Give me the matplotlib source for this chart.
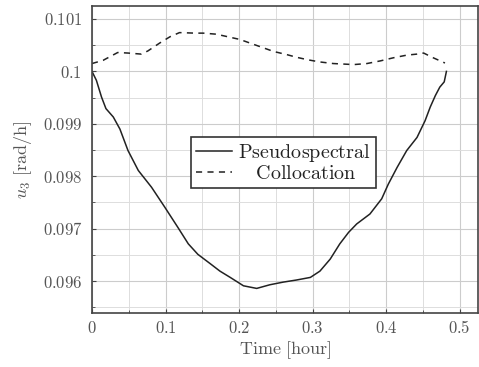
import numpy as np
import matplotlib
matplotlib.use('Agg')
import matplotlib.pyplot as plt
from matplotlib.ticker import MultipleLocator, FuncFormatter

plt.rcParams['mathtext.fontset'] = 'cm'
plt.rcParams['font.family'] = 'serif'
plt.rcParams['font.serif'] = ['DejaVu Serif']

# Pseudospectral (solid)
t_ps = [0, 0.006, 0.013, 0.019, 0.029, 0.038, 0.049, 0.063, 0.081, 0.099, 0.117, 0.131,
        0.144, 0.161, 0.174, 0.188, 0.206, 0.224, 0.242, 0.26, 0.278, 0.297, 0.31, 0.324,
        0.337, 0.349, 0.36, 0.378, 0.394, 0.403, 0.415, 0.428, 0.442, 0.453, 0.46, 0.467,
        0.473, 0.479, 0.482]
u_ps = [0.1, 0.09983, 0.09951, 0.09929, 0.09913, 0.0989, 0.09849, 0.09811, 0.09779, 0.09741,
        0.09702, 0.09671, 0.09651, 0.09633, 0.09619, 0.09607, 0.09591, 0.09586, 0.09593,
        0.09598, 0.09602, 0.09607, 0.09619, 0.09642, 0.09671, 0.09693, 0.09709, 0.09728,
        0.09757, 0.09785, 0.09817, 0.09849, 0.09874, 0.09906, 0.09932, 0.09954, 0.0997,
        0.0998, 0.1]

# Collocation (dashed)
t_col = [0, 0.015, 0.035, 0.049, 0.067, 0.076, 0.092, 0.106, 0.119, 0.14, 0.151, 0.169,
         0.201, 0.217, 0.231, 0.247, 0.265, 0.278, 0.294, 0.31, 0.328, 0.356, 0.374, 0.392,
         0.41, 0.428, 0.442, 0.451, 0.464, 0.48]
u_col = [0.10015, 0.10021, 0.10036, 0.10035, 0.10033, 0.10039, 0.10054, 0.10066, 0.10074,
         0.10073, 0.10073, 0.10071, 0.10061, 0.10053, 0.10046, 0.10038, 0.10032, 0.10027,
         0.10022, 0.10018, 0.10015, 0.10013, 0.10015, 0.1002, 0.10026, 0.10031, 0.10033,
         0.10035, 0.10026, 0.10016]

fig = plt.figure(figsize=(4.79, 3.67), dpi=100)
ax = fig.add_axes([0.192, 0.147, 0.806, 0.837])

ax.plot(t_ps, u_ps, color='#222222', lw=1.1, ls='-', label='Pseudospectral')
ax.plot(t_col, u_col, color='#222222', lw=1.1, ls=(0, (4, 3.5)), label='Collocation')

ax.set_xlim(0, 0.525)
ax.set_ylim(0.09539, 0.10125)
ax.xaxis.set_major_locator(MultipleLocator(0.1))
ax.xaxis.set_minor_locator(MultipleLocator(0.05))
ax.yaxis.set_major_locator(MultipleLocator(0.001))
ax.yaxis.set_minor_locator(MultipleLocator(0.0005))

def fmt(v, pos):
    s = ('%.3f' % v).rstrip('0').rstrip('.')
    return '$' + s + '$'

ax.xaxis.set_major_formatter(FuncFormatter(fmt))
ax.yaxis.set_major_formatter(FuncFormatter(fmt))
ax.tick_params(which='both', direction='in', length=3, color='#444444', labelsize=12,
               labelcolor='#555555')
ax.tick_params(axis='y', pad=7)
ax.tick_params(axis='x', pad=5)
ax.tick_params(which='minor', length=2)

ax.grid(which='major', color='#cccccc', lw=0.8)
ax.grid(which='minor', color='#dddddd', lw=0.7)
ax.set_axisbelow(True)
for s in ax.spines.values():
    s.set_color('#444444')
    s.set_linewidth(1.2)

ax.set_xlabel(r'$\mathrm{Time\ [hour]}$', fontsize=13, color='#555555', labelpad=2)
ax.set_ylabel(r'$u_3\ \mathrm{[rad/h]}$', fontsize=13, color='#555555', labelpad=6)

leg = ax.legend(loc='center', bbox_to_anchor=(0.496, 0.49), fancybox=False, framealpha=1,
                edgecolor='#333333', prop={'size': 14.5}, handlelength=1.8, handletextpad=0.3,
                borderpad=0.25, labelspacing=0.02, borderaxespad=0)
leg.get_frame().set_linewidth(1.2)
labels = [r'$\mathrm{Pseudospectral}$', r'$\mathrm{\ \ \ Collocation}$']
for t, lab in zip(leg.get_texts(), labels):
    t.set_text(lab)
    t.set_color('#222222')

fig.savefig('out.png', dpi=100)
